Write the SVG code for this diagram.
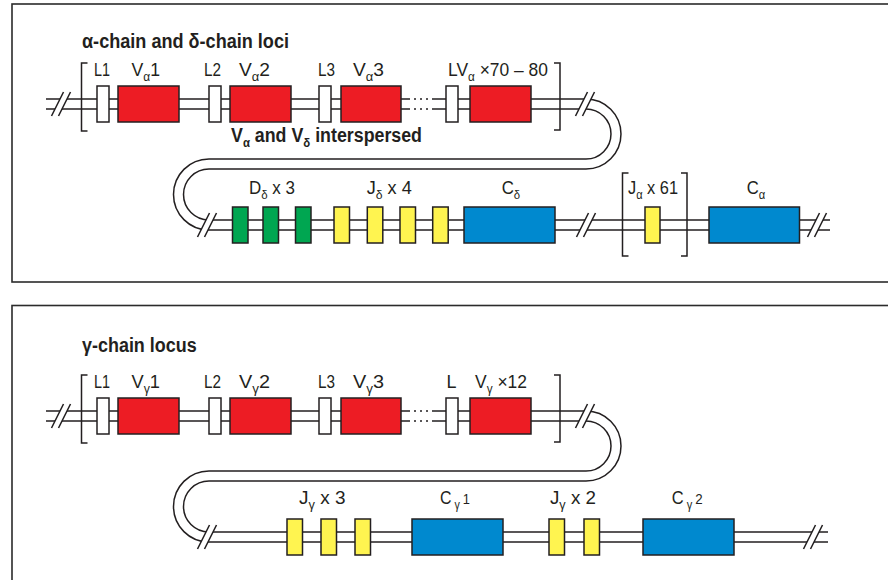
<svg xmlns="http://www.w3.org/2000/svg" width="888" height="580" viewBox="0 0 888 580">
<defs>
<style>
.panel{fill:#fff;stroke:#2b2b2b;stroke-width:1.6}
.chr{fill:none;stroke:#231f20;stroke-width:1.5}
.dot{fill:none;stroke:#231f20;stroke-width:1.5;stroke-dasharray:2 4}
.box{stroke:#231f20;stroke-width:1.5}
.L{fill:#fff}
.V{fill:#ed1c24}
.D{fill:#00a651}
.J{fill:#fff450}
.C{fill:#0089cf}
.br{fill:none;stroke:#231f20;stroke-width:1.5}
.lbl{font-family:"Liberation Sans",Arial,sans-serif;font-size:18.5px;fill:#231f20}
.ttl{font-family:"Liberation Sans",Arial,sans-serif;font-weight:bold;font-size:19.5px;fill:#231f20}
.sub{font-size:12.5px}
.num{font-size:15px}
.sl{stroke:#231f20;stroke-width:1.5}
</style>
<g id="brk">
<polygon points="-9.5,12 2.5,-12 9.5,-12 -2.5,12" fill="#fff"/>
<line class="sl" x1="-9.5" y1="12" x2="2.5" y2="-12"/>
<line class="sl" x1="-2.5" y1="12" x2="9.5" y2="-12"/>
</g>
</defs>

<rect id="panel-top" class="panel" x="12" y="4" width="900" height="278"/>
<rect id="panel-bottom" class="panel" x="12" y="305.5" width="900" height="300"/>

<g id="connectors">
<path class="chr" d="M46,99 H410 M432,99 H586 A35,35 0 0 1 586,169 H209 A25.5,25.5 0 0 0 209,220 H830"/>
<path class="chr" d="M46,109 H410 M432,109 H586 A25,25 0 0 1 586,159 H209 A35.5,35.5 0 0 0 209,230 H830"/>
<path class="dot" d="M414,99 H428 M414,109 H428"/>
<path class="chr" d="M46,411 H410 M432,411 H586 A35,35 0 0 1 586,481 H209 A25.5,25.5 0 0 0 209,532 H828"/>
<path class="chr" d="M46,421 H410 M432,421 H586 A25,25 0 0 1 586,471 H209 A35.5,35.5 0 0 0 209,542 H828"/>
<path class="dot" d="M414,411 H428 M414,421 H428"/>
<use href="#brk" x="61" y="104"/>
<use href="#brk" x="585" y="104"/>
<use href="#brk" x="207" y="225"/>
<use href="#brk" x="586" y="225"/>
<use href="#brk" x="817" y="225"/>
<use href="#brk" x="61" y="416"/>
<use href="#brk" x="585" y="416"/>
<use href="#brk" x="207" y="537"/>
<use href="#brk" x="813" y="537"/>
<path class="br" d="M87.5,63 H81.5 V131 H87.5"/>
<path class="br" d="M554,63 H560 V130 H554"/>
<path class="br" d="M628.5,173 H622.5 V256 H628.5"/>
<path class="br" d="M681,173 H687 V256 H681"/>
<path class="br" d="M87.5,375 H81.5 V443 H87.5"/>
<path class="br" d="M554,375 H560 V442 H554"/>
</g>

<text id="title-top" class="ttl" x="82" y="48" textLength="207" lengthAdjust="spacingAndGlyphs">α-chain and δ-chain loci</text>
<text id="note-top" class="ttl" x="231" y="142" textLength="191" lengthAdjust="spacingAndGlyphs">V<tspan class="sub" dy="5">α</tspan><tspan dy="-5"> and V</tspan><tspan class="sub" dy="5">δ</tspan><tspan dy="-5"> interspersed</tspan></text>

<g id="L1a"><rect class="box L" x="97" y="86" width="12" height="36"/><text class="lbl" x="94" y="76" textLength="16" lengthAdjust="spacingAndGlyphs">L1</text></g>
<g id="Va1"><rect class="box V" x="118" y="86" width="61" height="36"/><text class="lbl" x="131.5" y="76" textLength="28.5" lengthAdjust="spacingAndGlyphs">V<tspan class="sub" dy="5">α</tspan><tspan dy="-5">1</tspan></text></g>
<g id="L2a"><rect class="box L" x="209" y="86" width="12" height="36"/><text class="lbl" x="204" y="76" textLength="17" lengthAdjust="spacingAndGlyphs">L2</text></g>
<g id="Va2"><rect class="box V" x="230" y="86" width="61" height="36"/><text class="lbl" x="239" y="76" textLength="31" lengthAdjust="spacingAndGlyphs">V<tspan class="sub" dy="5">α</tspan><tspan dy="-5">2</tspan></text></g>
<g id="L3a"><rect class="box L" x="319" y="86" width="12" height="36"/><text class="lbl" x="318" y="76" textLength="17" lengthAdjust="spacingAndGlyphs">L3</text></g>
<g id="Va3"><rect class="box V" x="341" y="86" width="60" height="36"/><text class="lbl" x="353" y="76" textLength="31" lengthAdjust="spacingAndGlyphs">V<tspan class="sub" dy="5">α</tspan><tspan dy="-5">3</tspan></text></g>
<g id="Lan"><rect class="box L" x="446" y="86" width="12" height="36"/></g>
<g id="Van"><rect class="box V" x="470" y="86" width="61" height="36"/><text class="lbl" x="448" y="76" textLength="100" lengthAdjust="spacingAndGlyphs">LV<tspan class="sub" dy="5">α</tspan><tspan dy="-5"> ×70 – 80</tspan></text></g>

<g id="Dd"><rect class="box D" x="232.5" y="207" width="15.5" height="36"/><rect class="box D" x="263" y="207" width="15.5" height="36"/><rect class="box D" x="295.5" y="207" width="15.5" height="36"/><text class="lbl" x="249" y="194" textLength="46" lengthAdjust="spacingAndGlyphs">D<tspan class="sub" dy="5">δ</tspan><tspan dy="-5"> x 3</tspan></text></g>
<g id="Jd"><rect class="box J" x="334" y="207" width="15.5" height="36"/><rect class="box J" x="367.3" y="207" width="15.5" height="36"/><rect class="box J" x="400" y="207" width="15.5" height="36"/><rect class="box J" x="432.7" y="207" width="15.5" height="36"/><text class="lbl" x="366.7" y="194" textLength="45" lengthAdjust="spacingAndGlyphs">J<tspan class="sub" dy="5">δ</tspan><tspan dy="-5"> x 4</tspan></text></g>
<g id="Cd"><rect class="box C" x="464" y="207" width="91" height="36"/><text class="lbl" x="501.7" y="194" textLength="18.5" lengthAdjust="spacingAndGlyphs">C<tspan class="sub" dy="5">δ</tspan></text></g>
<g id="Ja"><rect class="box J" x="645" y="207" width="15" height="36"/><text class="lbl" x="628" y="194" textLength="50" lengthAdjust="spacingAndGlyphs">J<tspan class="sub" dy="5">α</tspan><tspan dy="-5"> x 61</tspan></text></g>
<g id="Ca"><rect class="box C" x="709" y="207" width="90.5" height="36"/><text class="lbl" x="746.7" y="194" textLength="18.5" lengthAdjust="spacingAndGlyphs">C<tspan class="sub" dy="5">α</tspan></text></g>

<text id="title-bottom" class="ttl" x="82" y="352" textLength="114.7" lengthAdjust="spacingAndGlyphs">γ-chain locus</text>

<g id="L1g"><rect class="box L" x="97" y="398" width="12" height="36"/><text class="lbl" x="94" y="388" textLength="16" lengthAdjust="spacingAndGlyphs">L1</text></g>
<g id="Vg1"><rect class="box V" x="118" y="398" width="61" height="36"/><text class="lbl" x="131.5" y="388" textLength="28.5" lengthAdjust="spacingAndGlyphs">V<tspan class="sub" dy="5">γ</tspan><tspan dy="-5">1</tspan></text></g>
<g id="L2g"><rect class="box L" x="209" y="398" width="12" height="36"/><text class="lbl" x="204" y="388" textLength="17" lengthAdjust="spacingAndGlyphs">L2</text></g>
<g id="Vg2"><rect class="box V" x="230" y="398" width="61" height="36"/><text class="lbl" x="239" y="388" textLength="31" lengthAdjust="spacingAndGlyphs">V<tspan class="sub" dy="5">γ</tspan><tspan dy="-5">2</tspan></text></g>
<g id="L3g"><rect class="box L" x="319" y="398" width="12" height="36"/><text class="lbl" x="318" y="388" textLength="17" lengthAdjust="spacingAndGlyphs">L3</text></g>
<g id="Vg3"><rect class="box V" x="341" y="398" width="60" height="36"/><text class="lbl" x="353" y="388" textLength="31" lengthAdjust="spacingAndGlyphs">V<tspan class="sub" dy="5">γ</tspan><tspan dy="-5">3</tspan></text></g>
<g id="Lgn"><rect class="box L" x="446" y="398" width="12" height="36"/><text class="lbl" x="446.5" y="388" textLength="10" lengthAdjust="spacingAndGlyphs">L</text></g>
<g id="Vgn"><rect class="box V" x="470" y="398" width="61" height="36"/><text class="lbl" x="475" y="388" textLength="52" lengthAdjust="spacingAndGlyphs">V<tspan class="sub" dy="5">γ</tspan><tspan dy="-5"> ×12</tspan></text></g>

<g id="Jg3"><rect class="box J" x="287" y="519" width="15.5" height="36"/><rect class="box J" x="321" y="519" width="15.5" height="36"/><rect class="box J" x="355" y="519" width="15.5" height="36"/><text class="lbl" x="299" y="504" textLength="46.5" lengthAdjust="spacingAndGlyphs">J<tspan class="sub" dy="5">γ</tspan><tspan dy="-5"> x 3</tspan></text></g>
<g id="Cg1"><rect class="box C" x="412" y="519" width="91" height="36"/><text class="lbl" x="440" y="504" textLength="30" lengthAdjust="spacingAndGlyphs">C<tspan class="sub" dy="5"> γ </tspan><tspan class="num" dy="-5">1</tspan></text></g>
<g id="Jg2"><rect class="box J" x="549" y="519" width="15.5" height="36"/><rect class="box J" x="584" y="519" width="15.5" height="36"/><text class="lbl" x="550" y="504" textLength="46" lengthAdjust="spacingAndGlyphs">J<tspan class="sub" dy="5">γ</tspan><tspan dy="-5"> x 2</tspan></text></g>
<g id="Cg2"><rect class="box C" x="643" y="519" width="91" height="36"/><text class="lbl" x="671.7" y="504" textLength="31" lengthAdjust="spacingAndGlyphs">C<tspan class="sub" dy="5"> γ </tspan><tspan class="num" dy="-5">2</tspan></text></g>
</svg>
